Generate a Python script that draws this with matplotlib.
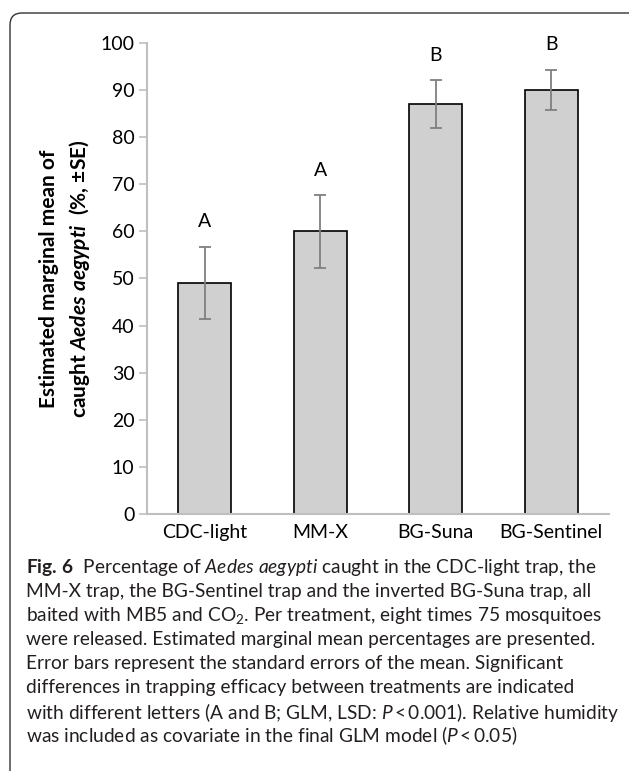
import matplotlib
matplotlib.use("Agg")
import matplotlib.pyplot as plt
from matplotlib.patches import FancyBboxPatch

# data
traps = ["CDC-light", "MM-X", "BG-Suna", "BG-Sentinel"]
means = [49, 60, 87, 90]
se = [7.7, 7.7, 5.1, 4.3]
letters = ["A", "A", "B", "B"]

caption = [
    r"$\mathbf{Fig.\,6}$  Percentage of $\mathit{Aedes\ aegypti}$ caught in the CDC-light trap, the",
    "MM-X trap, the BG-Sentinel trap and the inverted BG-Suna trap, all",
    r"baited with MB5 and CO$_2$. Per treatment, eight times 75 mosquitoes",
    "were released. Estimated marginal mean percentages are presented.",
    "Error bars represent the standard errors of the mean. Significant",
    "differences in trapping efficacy between treatments are indicated",
    r"with different letters (A and B; GLM, LSD: $\mathit{P}\,$<$\,$0.001). Relative humidity",
    r"was included as covariate in the final GLM model ($\mathit{P}\,$<$\,$0.05)",
]

plt.rcParams["font.family"] = ["Lato", "DejaVu Sans"]
plt.rcParams["mathtext.fontset"] = "custom"
plt.rcParams["mathtext.rm"] = "Lato"
plt.rcParams["mathtext.it"] = "Lato:italic"
plt.rcParams["mathtext.bf"] = "Lato:bold"
plt.rcParams["mathtext.bfit"] = "Lato:italic:bold"
plt.rcParams["mathtext.default"] = "regular"

W, H = 629, 771
fig = plt.figure(figsize=(W / 100, H / 100), dpi=100)

# rounded frame round the figure, open to the right and bottom
frame = FancyBboxPatch((10, -60), 700, H - 13 + 60, boxstyle="round,pad=0,rounding_size=12",
                       transform=None, fill=False, edgecolor="#333333", linewidth=1.0)
fig.patches.append(frame)

ax = fig.add_axes([147 / W, 1 - 514 / H, (609 - 147) / W, (514 - 43) / H])
x = range(len(traps))
ax.bar(x, means, width=0.46, color="#d0d0d0", edgecolor="black", linewidth=1.2, zorder=2)
ax.errorbar(x, means, yerr=se, fmt="none", ecolor="#808080", elinewidth=1.3,
            capsize=4, capthick=1.3, zorder=3)
for xi, m, s, l in zip(x, means, se, letters):
    ax.text(xi, m + s + 5.3, l, ha="center", va="center", fontsize=14)

ax.set_xlim(-0.5, 3.5)
ax.set_ylim(0, 100)
ax.set_yticks(range(0, 101, 10))
ax.set_xticks(list(x))
ax.set_xticklabels(traps, fontsize=14)
ax.tick_params(axis="y", labelsize=14, length=6, width=1.2, color="#bfbfbf", pad=3)
ax.tick_params(axis="x", length=0, pad=7)
for side in ["top", "right"]:
    ax.spines[side].set_visible(False)
for side in ["left", "bottom"]:
    ax.spines[side].set_color("#bfbfbf")
    ax.spines[side].set_linewidth(1.5)

ax.set_ylabel("Estimated marginal mean of\n" + r"caught $\mathbfit{Aedes\ aegypti}$  (%, ±SE)",
              fontsize=15, fontweight="bold", labelpad=6, linespacing=1.45)

for i, line in enumerate(caption):
    fig.text(26 / W, 1 - (568 + 24 * i) / H, line, ha="left", va="center",
             fontsize=13.8, color="#231f20")

fig.savefig("out.png", dpi=100)
